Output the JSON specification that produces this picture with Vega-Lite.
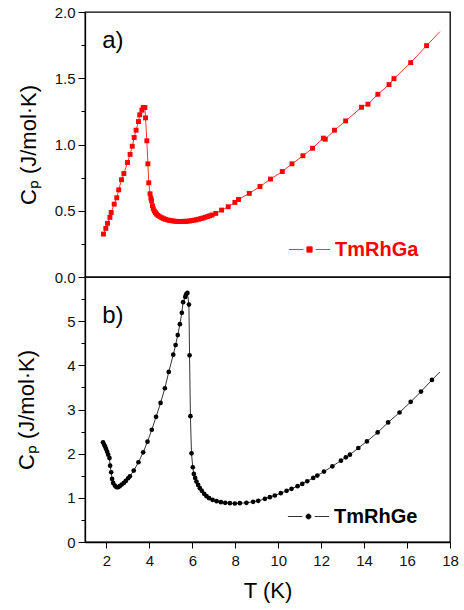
{
  "$schema": "https://vega.github.io/schema/vega-lite/v6.json",
  "padding": {"left": 15, "top": 4, "right": 5, "bottom": 5},
  "bounds": "flush",
  "config": {
    "font": "Liberation Sans",
    "view": {"stroke": "black", "strokeWidth": 1.3},
    "axis": {
      "grid": false,
      "domainColor": "black",
      "domainWidth": 1.3,
      "tickColor": "black",
      "tickWidth": 1,
      "labelFontSize": 15,
      "labelColor": "#111",
      "labelPadding": 3,
      "labelOverlap": false,
      "labelFlush": false,
      "titleFontSize": 22,
      "titleFontWeight": "normal",
      "titleColor": "black"
    }
  },
  "datasets": {
    "ga": [
      {"T": 1.86, "Cp": 0.324}, {"T": 1.97, "Cp": 0.367}, {"T": 2.05, "Cp": 0.405}, {"T": 2.16, "Cp": 0.45},
      {"T": 2.22, "Cp": 0.487}, {"T": 2.36, "Cp": 0.55}, {"T": 2.48, "Cp": 0.598}, {"T": 2.57, "Cp": 0.658},
      {"T": 2.70, "Cp": 0.734}, {"T": 2.81, "Cp": 0.781}, {"T": 2.98, "Cp": 0.864}, {"T": 3.10, "Cp": 0.925},
      {"T": 3.20, "Cp": 0.987}, {"T": 3.29, "Cp": 1.053}, {"T": 3.38, "Cp": 1.108}, {"T": 3.49, "Cp": 1.173},
      {"T": 3.55, "Cp": 1.224}, {"T": 3.65, "Cp": 1.259}, {"T": 3.71, "Cp": 1.279}, {"T": 3.79, "Cp": 1.279},
      {"T": 3.82, "Cp": 1.201}, {"T": 3.88, "Cp": 1.028}, {"T": 3.93, "Cp": 0.854}, {"T": 3.97, "Cp": 0.711},
      {"T": 4.03, "Cp": 0.628}, {"T": 4.07, "Cp": 0.595}, {"T": 4.10, "Cp": 0.575}, {"T": 4.14, "Cp": 0.538},
      {"T": 4.18, "Cp": 0.515}, {"T": 4.23, "Cp": 0.498}, {"T": 4.28, "Cp": 0.485}, {"T": 4.33, "Cp": 0.475},
      {"T": 4.40, "Cp": 0.465}, {"T": 4.49, "Cp": 0.455}, {"T": 4.58, "Cp": 0.447}, {"T": 4.67, "Cp": 0.440},
      {"T": 4.76, "Cp": 0.435}, {"T": 4.86, "Cp": 0.430}, {"T": 4.95, "Cp": 0.427}, {"T": 5.05, "Cp": 0.424},
      {"T": 5.15, "Cp": 0.422}, {"T": 5.26, "Cp": 0.420}, {"T": 5.36, "Cp": 0.419}, {"T": 5.46, "Cp": 0.419},
      {"T": 5.57, "Cp": 0.420}, {"T": 5.67, "Cp": 0.420}, {"T": 5.77, "Cp": 0.421}, {"T": 5.88, "Cp": 0.423},
      {"T": 5.98, "Cp": 0.426}, {"T": 6.08, "Cp": 0.429}, {"T": 6.19, "Cp": 0.432}, {"T": 6.29, "Cp": 0.436},
      {"T": 6.40, "Cp": 0.441}, {"T": 6.50, "Cp": 0.445}, {"T": 6.60, "Cp": 0.451}, {"T": 6.71, "Cp": 0.456},
      {"T": 6.81, "Cp": 0.462}, {"T": 6.92, "Cp": 0.468}, {"T": 7.09, "Cp": 0.480}, {"T": 7.36, "Cp": 0.505},
      {"T": 7.67, "Cp": 0.53}, {"T": 7.98, "Cp": 0.563}, {"T": 8.15, "Cp": 0.585}, {"T": 8.65, "Cp": 0.631},
      {"T": 9.15, "Cp": 0.683}, {"T": 9.64, "Cp": 0.739}, {"T": 10.19, "Cp": 0.796}, {"T": 10.64, "Cp": 0.854},
      {"T": 11.15, "Cp": 0.915}, {"T": 11.60, "Cp": 0.972}, {"T": 12.10, "Cp": 1.048}, {"T": 12.19, "Cp": 1.040},
      {"T": 12.62, "Cp": 1.108}, {"T": 13.14, "Cp": 1.178}, {"T": 13.88, "Cp": 1.281}, {"T": 14.18, "Cp": 1.304},
      {"T": 14.64, "Cp": 1.379}, {"T": 15.16, "Cp": 1.452}, {"T": 15.39, "Cp": 1.497}, {"T": 16.17, "Cp": 1.618},
      {"T": 16.91, "Cp": 1.746}, {"T": 17.53, "Cp": 1.852}
    ],
    "ge": [
      {"T": 1.84, "Cp": 2.256}, {"T": 1.89, "Cp": 2.20}, {"T": 1.94, "Cp": 2.158}, {"T": 1.98, "Cp": 2.105},
      {"T": 2.03, "Cp": 2.045}, {"T": 2.08, "Cp": 1.977}, {"T": 2.14, "Cp": 1.90}, {"T": 2.17, "Cp": 1.729},
      {"T": 2.22, "Cp": 1.579}, {"T": 2.26, "Cp": 1.429}, {"T": 2.31, "Cp": 1.338}, {"T": 2.39, "Cp": 1.278},
      {"T": 2.47, "Cp": 1.241}, {"T": 2.54, "Cp": 1.241}, {"T": 2.62, "Cp": 1.263}, {"T": 2.71, "Cp": 1.30},
      {"T": 2.81, "Cp": 1.338}, {"T": 2.90, "Cp": 1.383}, {"T": 3.01, "Cp": 1.444}, {"T": 3.09, "Cp": 1.489},
      {"T": 3.27, "Cp": 1.617}, {"T": 3.49, "Cp": 1.805}, {"T": 3.71, "Cp": 2.03}, {"T": 3.91, "Cp": 2.271},
      {"T": 4.11, "Cp": 2.541}, {"T": 4.31, "Cp": 2.835}, {"T": 4.52, "Cp": 3.15}, {"T": 4.72, "Cp": 3.481},
      {"T": 4.90, "Cp": 3.85}, {"T": 5.11, "Cp": 4.241}, {"T": 5.22, "Cp": 4.459}, {"T": 5.32, "Cp": 4.684},
      {"T": 5.42, "Cp": 4.932}, {"T": 5.51, "Cp": 5.188}, {"T": 5.57, "Cp": 5.429}, {"T": 5.67, "Cp": 5.549},
      {"T": 5.71, "Cp": 5.609}, {"T": 5.77, "Cp": 5.639}, {"T": 5.84, "Cp": 5.376}, {"T": 5.87, "Cp": 4.226},
      {"T": 5.91, "Cp": 2.85}, {"T": 5.96, "Cp": 2.008}, {"T": 6.02, "Cp": 1.692}, {"T": 6.07, "Cp": 1.541},
      {"T": 6.13, "Cp": 1.451}, {"T": 6.19, "Cp": 1.368}, {"T": 6.27, "Cp": 1.293}, {"T": 6.35, "Cp": 1.218},
      {"T": 6.44, "Cp": 1.158}, {"T": 6.55, "Cp": 1.09}, {"T": 6.66, "Cp": 1.038}, {"T": 6.78, "Cp": 0.992},
      {"T": 6.94, "Cp": 0.955}, {"T": 7.13, "Cp": 0.925}, {"T": 7.33, "Cp": 0.902}, {"T": 7.53, "Cp": 0.887},
      {"T": 7.75, "Cp": 0.88}, {"T": 7.98, "Cp": 0.872}, {"T": 8.21, "Cp": 0.88}, {"T": 8.52, "Cp": 0.887},
      {"T": 8.83, "Cp": 0.91}, {"T": 9.07, "Cp": 0.932}, {"T": 9.38, "Cp": 0.977}, {"T": 9.61, "Cp": 1.015},
      {"T": 9.84, "Cp": 1.053}, {"T": 10.12, "Cp": 1.105}, {"T": 10.39, "Cp": 1.158}, {"T": 10.62, "Cp": 1.203},
      {"T": 10.90, "Cp": 1.263}, {"T": 11.12, "Cp": 1.316}, {"T": 11.35, "Cp": 1.376}, {"T": 11.63, "Cp": 1.451},
      {"T": 11.82, "Cp": 1.504}, {"T": 12.13, "Cp": 1.594}, {"T": 12.52, "Cp": 1.714}, {"T": 12.92, "Cp": 1.842},
      {"T": 13.15, "Cp": 1.917}, {"T": 13.34, "Cp": 1.977}, {"T": 13.73, "Cp": 2.128}, {"T": 14.13, "Cp": 2.278},
      {"T": 14.63, "Cp": 2.481}, {"T": 15.12, "Cp": 2.707}, {"T": 15.65, "Cp": 2.932}, {"T": 16.17, "Cp": 3.173},
      {"T": 16.65, "Cp": 3.406}, {"T": 17.16, "Cp": 3.669}, {"T": 17.53, "Cp": 3.85}
    ]
  },
  "spacing": 0,
  "resolve": {"scale": {"color": "independent", "x": "independent"}, "axis": {"x": "independent"}, "legend": {"color": "independent"}},
  "vconcat": [
    {
      "width": 365,
      "height": 265,
      "encoding": {
        "x": {"field": "T", "type": "quantitative", "scale": {"domain": [1, 18], "nice": false}, "axis": null},
        "y": {
          "field": "Cp", "type": "quantitative", "scale": {"domain": [0, 2], "nice": false},
          "axis": {
            "title": "Cₚ (J/mol·K)",
            "titlePadding": 14,
            "values": [0, 0.25, 0.5, 0.75, 1, 1.25, 1.5, 1.75, 2],
            "labelExpr": "datum.value % 0.5 === 0 ? format(datum.value, '.1f') : ''",
            "tickSize": {"condition": {"test": "datum.value % 0.5 === 0", "value": 7}, "value": 4}
          }
        }
      },
      "layer": [
        {
          "data": {"name": "ga"},
          "mark": {"type": "line", "color": "#ff0000", "strokeWidth": 0.8}
        },
        {
          "data": {"name": "ga"},
          "transform": [{"filter": "datum.T < 17.3"}],
          "mark": {"type": "square", "filled": true, "size": 24, "opacity": 1},
          "encoding": {
            "color": {
              "datum": "TmRhGa",
              "scale": {"range": ["#ff0000"]},
              "legend": {
                "title": null,
                "orient": "none",
                "legendX": 203,
                "legendY": 216,
                "padding": 0,
                "labelFontSize": 20,
                "labelFontWeight": "bold",
                "labelColor": "#ff0000",
                "labelOffset": 4,
                "symbolType": "M-1,0H-0.3M0.3,0H1M-0.13,-0.13H0.13V0.13H-0.13Z",
                "symbolSize": 1700,
                "symbolStrokeWidth": 0.8,
                "symbolFillColor": "#ff0000",
                "symbolStrokeColor": "#ff0000"
              }
            }
          }
        },
        {
          "data": {"values": [{"T": 1.8, "Cp": 1.78, "label": "a)"}]},
          "mark": {"type": "text", "align": "left", "baseline": "middle", "fontSize": 24, "color": "black"},
          "encoding": {"text": {"field": "label"}}
        }
      ]
    },
    {
      "width": 365,
      "height": 265,
      "encoding": {
        "x": {
          "field": "T", "type": "quantitative", "scale": {"domain": [1, 18], "nice": false},
          "axis": {
            "title": "T (K)",
            "values": [2, 4, 6, 8, 10, 12, 14, 16, 18],
            "format": "d",
            "tickSize": 6,
            "labelPadding": 5,
            "titlePadding": 12
          }
        },
        "y": {
          "field": "Cp", "type": "quantitative", "scale": {"domain": [0, 6], "nice": false},
          "axis": {
            "title": "Cₚ (J/mol·K)",
            "titlePadding": 28,
            "values": [0, 0.5, 1, 1.5, 2, 2.5, 3, 3.5, 4, 4.5, 5, 5.5],
            "labelExpr": "datum.value % 1 === 0 ? format(datum.value, 'd') : ''",
            "tickSize": {"condition": {"test": "datum.value % 1 === 0", "value": 7}, "value": 4}
          }
        }
      },
      "layer": [
        {
          "data": {"name": "ge"},
          "mark": {"type": "line", "color": "black", "strokeWidth": 0.8}
        },
        {
          "data": {"name": "ge"},
          "transform": [{"filter": "datum.T < 17.3"}],
          "mark": {"type": "circle", "size": 22, "opacity": 1},
          "encoding": {
            "color": {
              "datum": "TmRhGe",
              "scale": {"range": ["#000000"]},
              "legend": {
                "title": null,
                "orient": "none",
                "legendX": 202,
                "legendY": 218,
                "padding": 0,
                "labelFontSize": 20,
                "labelFontWeight": "bold",
                "labelColor": "#000000",
                "labelOffset": 4,
                "symbolType": "M-1,0H-0.3M0.3,0H1M-0.12,0A0.12,0.12 0 1,0 0.12,0A0.12,0.12 0 1,0 -0.12,0Z",
                "symbolSize": 1700,
                "symbolStrokeWidth": 0.8,
                "symbolFillColor": "#000000",
                "symbolStrokeColor": "#000000"
              }
            }
          }
        },
        {
          "data": {"values": [{"T": 1.8, "Cp": 5.12, "label": "b)"}]},
          "mark": {"type": "text", "align": "left", "baseline": "middle", "fontSize": 24, "color": "black"},
          "encoding": {"text": {"field": "label"}}
        }
      ]
    }
  ]
}
